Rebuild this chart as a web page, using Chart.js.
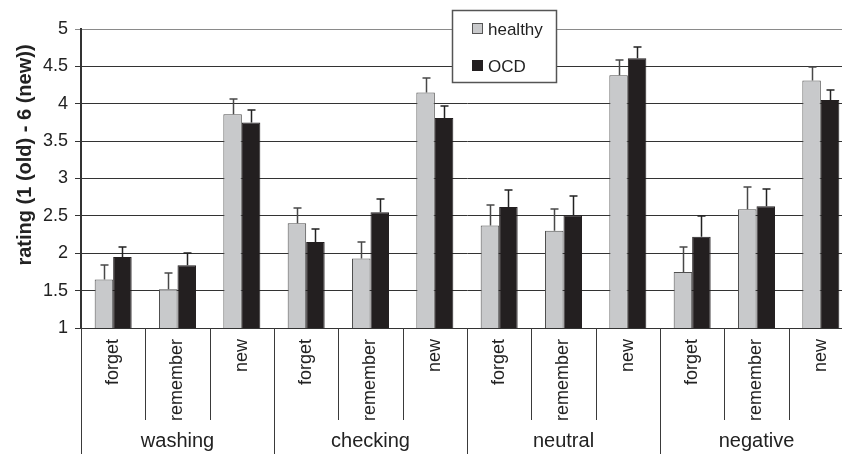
<!DOCTYPE html>
<html><head><meta charset="utf-8">
<script src="https://cdn.jsdelivr.net/npm/chart.js@4.4.1/dist/chart.umd.min.js"></script>
<style>
html,body{margin:0;padding:0;background:#fff;overflow:hidden;width:842px;height:454px}
#wrap{position:absolute;left:0;top:0;width:860px;height:454px}
canvas{display:block}
</style>
</head><body><div id="wrap"><canvas id="c" width="860" height="454"></canvas></div>
<script>
// ---- data ----
const groups = ['washing', 'checking', 'neutral', 'negative'];
const conditions = ['forget', 'remember', 'new'];
const tickLabels = ['forget','remember','new','forget','remember','new','forget','remember','new','forget','remember','new'];
const seriesNames = ['healthy', 'OCD'];
const healthy    = [1.65, 1.52, 3.86, 2.40, 1.93, 4.15, 2.37, 2.30, 4.38, 1.75, 2.59, 4.31];
const healthyErr = [0.19, 0.21, 0.20, 0.21, 0.22, 0.19, 0.28, 0.29, 0.20, 0.34, 0.29, 0.18];
const ocd        = [1.95, 1.84, 3.75, 2.15, 2.55, 3.81, 2.62, 2.51, 4.61, 2.22, 2.63, 4.05];
const ocdErr     = [0.14, 0.16, 0.16, 0.17, 0.18, 0.16, 0.22, 0.26, 0.15, 0.28, 0.23, 0.14];
const yTitle = 'rating (1 (old) - 6 (new))';

const FONT = '"Liberation Sans", Arial, Helvetica, sans-serif';

const errorBars = {
  id: 'errorBars',
  afterDatasetsDraw(chart) {
    const ctx = chart.ctx, ys = chart.scales.y;
    chart.data.datasets.forEach((ds, di) => {
      const meta = chart.getDatasetMeta(di);
      ctx.save();
      ctx.strokeStyle = ds.errColor;
      ctx.lineWidth = 1.5;
      meta.data.forEach((el, i) => {
        const x = Math.round(el.x) + 0.5;
        const y0 = ys.getPixelForValue(ds.data[i]);
        const y1 = Math.round(ys.getPixelForValue(ds.data[i] + ds.err[i]));
        ctx.beginPath();
        ctx.moveTo(x, y0); ctx.lineTo(x, y1);
        ctx.moveTo(x - 4, y1); ctx.lineTo(x + 4, y1);
        ctx.stroke();
      });
      ctx.restore();
    });
  }
};

const decorations = {
  id: 'decorations',
  afterDraw(chart) {
    const ctx = chart.ctx, xs = chart.scales.x, area = chart.chartArea;
    const n = tickLabels.length;
    ctx.save();
    // separators
    ctx.strokeStyle = '#3a3a3a';
    ctx.lineWidth = 1;
    for (let i = 0; i <= n; i++) {
      let px;
      if (i === 0) px = area.left;
      else if (i === n) px = area.right;
      else px = (xs.getPixelForValue(i - 1) + xs.getPixelForValue(i)) / 2;
      px = Math.round(px) + 0.5;
      const bottom = (i % 3 === 0) ? 454 : 420;
      ctx.beginPath(); ctx.moveTo(px, area.bottom); ctx.lineTo(px, bottom); ctx.stroke();
    }
    // group labels
    ctx.fillStyle = '#222';
    ctx.font = '20px ' + FONT;
    ctx.textAlign = 'center';
    ctx.textBaseline = 'alphabetic';
    groups.forEach((g, gi) => {
      ctx.fillText(g, xs.getPixelForValue(gi * 3 + 1), 447);
    });
    // y title
    ctx.save();
    ctx.translate(25, 155);
    ctx.rotate(-Math.PI / 2);
    ctx.font = 'bold 20px ' + FONT;
    ctx.textAlign = 'center';
    ctx.textBaseline = 'middle';
    ctx.fillStyle = '#222';
    ctx.fillText(yTitle, 0, 0);
    ctx.restore();
    // legend
    ctx.fillStyle = '#fff';
    ctx.fillRect(452, 10, 105, 73);
    ctx.strokeStyle = '#555';
    ctx.lineWidth = 1.5;
    ctx.strokeRect(452.5, 10.5, 104, 72);
    const items = [
      {name: seriesNames[0], fill: '#c8c9cb', border: '#555', y: 23},
      {name: seriesNames[1], fill: '#231f20', border: '#231f20', y: 60}
    ];
    ctx.font = '17px ' + FONT;
    ctx.textAlign = 'left';
    ctx.textBaseline = 'alphabetic';
    items.forEach(it => {
      ctx.fillStyle = it.fill;
      ctx.fillRect(472, it.y, 11, 11);
      ctx.strokeStyle = it.border;
      ctx.lineWidth = 1;
      ctx.strokeRect(472.5, it.y + 0.5, 10, 10);
      ctx.fillStyle = '#222';
      ctx.fillText(it.name, 488, it.y + 12);
    });
    ctx.restore();
  }
};

new Chart(document.getElementById('c'), {
  type: 'bar',
  data: {
    labels: tickLabels,
    datasets: [
      {label: seriesNames[0], data: healthy, err: healthyErr, errColor: '#484848',
       backgroundColor: '#c8c9cb', borderColor: '#505050', borderWidth: 1, borderSkipped: false,
       barPercentage: 1, categoryPercentage: 0.575},
      {label: seriesNames[1], data: ocd, err: ocdErr, errColor: '#222',
       backgroundColor: '#231f20', borderColor: '#231f20', borderWidth: 1, borderSkipped: false,
       barPercentage: 1, categoryPercentage: 0.575}
    ]
  },
  options: {
    responsive: false,
    animation: false,
    devicePixelRatio: 1,
    layout: {padding: {top: 29, right: 7, left: 0, bottom: 0}},
    plugins: {legend: {display: false}, tooltip: {enabled: false}, title: {display: false}},
    scales: {
      x: {
        grid: {display: false},
        border: {display: false},
        ticks: {
          autoSkip: false, minRotation: 90, maxRotation: 90, padding: 3,
          color: '#222', font: {family: FONT, size: 18}
        },
        afterFit(s) { s.height = 126; }
      },
      y: {
        min: 1, max: 5,
        grid: {
          color: (c) => (c.tick && c.tick.value === 5) ? '#8a8a8a' : '#333',
          lineWidth: 1, tickLength: 6, drawTicks: true
        },
        border: {display: true, color: '#333', width: 2},
        ticks: {
          stepSize: 0.5, padding: 7, color: '#222',
          font: {family: FONT, size: 18},
          callback: (v) => String(v)
        },
        afterFit(s) { s.width = 81; }
      }
    }
  },
  plugins: [errorBars, decorations]
});
</script>
</body></html>
